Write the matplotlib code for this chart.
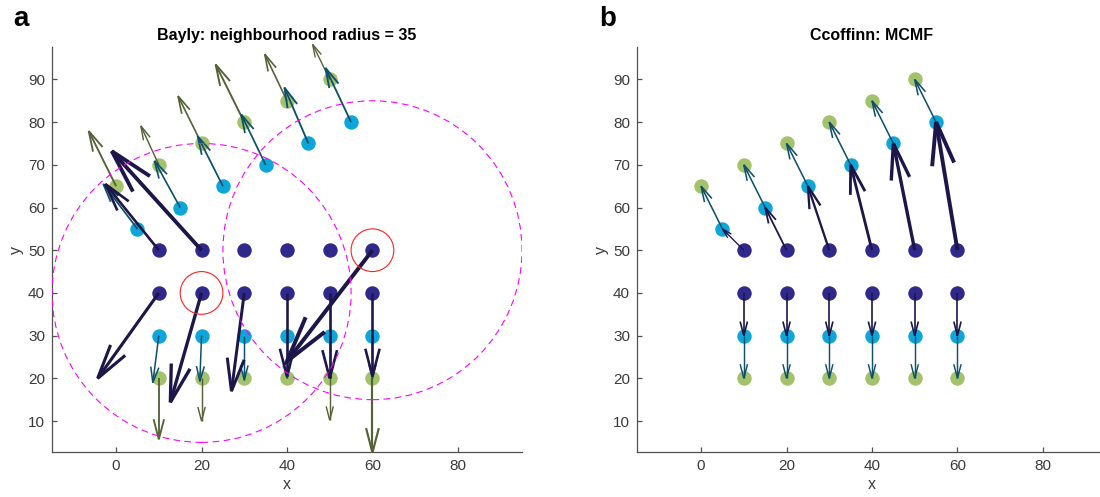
import numpy as np
import matplotlib
matplotlib.use("Agg")
import matplotlib.pyplot as plt
from matplotlib.patches import Circle

# puntos de las tres capas
purple_x = [10, 20, 30, 40, 50, 60, 10, 20, 30, 40, 50, 60]
purple_y = [50, 50, 50, 50, 50, 50, 40, 40, 40, 40, 40, 40]
cyan_x = [10, 20, 30, 40, 50, 60, 5, 15, 25, 35, 45, 55]
cyan_y = [30, 30, 30, 30, 30, 30, 55, 60, 65, 70, 75, 80]
green_x = [10, 20, 30, 40, 50, 60, 0, 10, 20, 30, 40, 50]
green_y = [20, 20, 20, 20, 20, 20, 65, 70, 75, 80, 85, 90]

# panel a: flechas de Bayly (origen -> destino)
bayly_p_x0 = [10, 20, 60, 10, 20, 30, 40, 50, 60]
bayly_p_y0 = [50, 50, 50, 40, 40, 40, 40, 40, 40]
bayly_p_x1 = [-2.5, -1, 40, -4.3, 12.7, 27, 40, 50, 60]
bayly_p_y1 = [65.5, 73.2, 24, 20, 14.4, 17, 20.5, 20, 20.5]

bayly_t_x0 = [10, 20, 30, 40, 50, 60, 5, 15, 25, 35, 45, 55]
bayly_t_y0 = [30, 30, 30, 30, 30, 30, 55, 60, 65, 70, 75, 80]
bayly_t_x1 = [8.6, 19.6, 30, 40, 50, 60, -3, 9, 19.1, 29.3, 39.4, 49]
bayly_t_y1 = [19, 19.3, 19.6, 20, 20, 20, 65.5, 70.9, 76.7, 81.8, 88.1, 92.7]

bayly_o_x0 = [10, 20, 50, 60, 0, 10, 20, 30, 40, 50]
bayly_o_y0 = [20, 20, 20, 20, 65, 70, 75, 80, 85, 90]
bayly_o_x1 = [10, 20, 50, 60, -6.4, 5.8, 14.5, 23.3, 34.8, 46]
bayly_o_y1 = [5.7, 10, 10.2, 2.6, 77.9, 79.1, 86.1, 93.5, 95.9, 98.2]

# panel b: flechas de MCMF
mcmf_p_x0 = [10, 20, 30, 40, 50, 60, 10, 20, 30, 40, 50, 60]
mcmf_p_y0 = [50, 50, 50, 50, 50, 50, 40, 40, 40, 40, 40, 40]
mcmf_p_x1 = [5, 15, 25, 35, 45, 55, 10, 20, 30, 40, 50, 60]
mcmf_p_y1 = [55, 60, 65, 70, 75, 80, 30, 30, 30, 30, 30, 30]

mcmf_t_x0 = [5, 15, 25, 35, 45, 55, 10, 20, 30, 40, 50, 60]
mcmf_t_y0 = [55, 60, 65, 70, 75, 80, 30, 30, 30, 30, 30, 30]
mcmf_t_x1 = [0, 10, 20, 30, 40, 50, 10, 20, 30, 40, 50, 60]
mcmf_t_y1 = [65, 70, 75, 80, 85, 90, 20, 20, 20, 20, 20, 20]

# vecindarios (centro y radio)
hood_x = [20, 60]
hood_y = [40, 50]
hood_r = 35
sel_r = 5

C_PURPLE = '#30288a'
C_CYAN = '#0ea6d8'
C_GREEN = '#a4c16c'
C_ARR_P = '#1c1748'
C_ARR_T = '#0c506c'
C_ARR_O = '#536237'
C_AX = '#505050'

plt.rcParams['font.family'] = ['Liberation Sans', 'DejaVu Sans']


def flechas(ax, x0, y0, x1, y1, color, grosor=1.0):
    # flechas estilo quiver de MATLAB: cabeza abierta proporcional al largo
    alpha, beta = 0.33, 0.26
    for a, b, c, d in zip(x0, y0, x1, y1):
        u, v = c - a, d - b
        largo = np.hypot(u, v)
        lw = grosor * (0.5 + 0.095 * largo) * 0.72
        hx = [c - alpha * (u + beta * v), c, c - alpha * (u - beta * v)]
        hy = [d - alpha * (v - beta * u), d, d - alpha * (v + beta * u)]
        ax.plot([a, c], [b, d], color=color, lw=lw, solid_capstyle='butt',
                clip_on=False, zorder=3)
        ax.plot(hx, hy, color=color, lw=lw, solid_joinstyle='miter',
                solid_capstyle='butt', clip_on=False, zorder=3)


def armar_ejes(ax, titulo):
    ax.set_xlim(-15, 95)
    ax.set_ylim(2.75, 97.5)
    ax.set_xticks([0, 20, 40, 60, 80])
    ax.set_yticks([10, 20, 30, 40, 50, 60, 70, 80, 90])
    for s in ['top', 'right']:
        ax.spines[s].set_visible(False)
    for s in ['left', 'bottom']:
        ax.spines[s].set_color(C_AX)
        ax.spines[s].set_linewidth(0.9)
    ax.tick_params(direction='in', length=3.5, width=0.9, color=C_AX,
                   labelcolor='#3a3a3a', labelsize=11, pad=5)
    ax.set_xlabel('x', fontsize=11.5, color='#3a3a3a', labelpad=3)
    ax.set_ylabel('y', fontsize=11.5, color='#3a3a3a', labelpad=3)
    ax.set_title(titulo, fontsize=11.5, fontweight='bold', pad=5)


fig = plt.figure(figsize=(11, 4.97), dpi=100)
ax1 = fig.add_axes([52 / 1100, 1 - 452 / 497, 470 / 1100, 404.6 / 497])
ax2 = fig.add_axes([637 / 1100, 1 - 452 / 497, 470 / 1100, 404.6 / 497])

for ax in (ax1, ax2):
    ax.scatter(purple_x, purple_y, s=108, color=C_PURPLE, linewidths=0, zorder=2)
    ax.scatter(cyan_x, cyan_y, s=108, color=C_CYAN, linewidths=0, zorder=2)
    ax.scatter(green_x, green_y, s=108, color=C_GREEN, linewidths=0, zorder=2)

# panel a
flechas(ax1, bayly_o_x0, bayly_o_y0, bayly_o_x1, bayly_o_y1, C_ARR_O)
flechas(ax1, bayly_t_x0, bayly_t_y0, bayly_t_x1, bayly_t_y1, C_ARR_T)
flechas(ax1, bayly_p_x0, bayly_p_y0, bayly_p_x1, bayly_p_y1, C_ARR_P, 1.1)
for cx, cy in zip(hood_x, hood_y):
    ax1.add_patch(Circle((cx, cy), hood_r, fill=False, edgecolor='#ff00ff',
                         lw=0.8, linestyle=(0, (6, 4)), zorder=4))
    ax1.add_patch(Circle((cx, cy), sel_r, fill=False, edgecolor='#ff2020',
                         lw=0.8, zorder=4))
armar_ejes(ax1, 'Bayly: neighbourhood radius = 35')

# panel b
flechas(ax2, mcmf_t_x0, mcmf_t_y0, mcmf_t_x1, mcmf_t_y1, C_ARR_T)
flechas(ax2, mcmf_p_x0, mcmf_p_y0, mcmf_p_x1, mcmf_p_y1, C_ARR_P, 1.15)
armar_ejes(ax2, 'Ccoffinn: MCMF')

fig.text(13 / 1100, 1 - 26 / 497, 'a', fontsize=20, fontweight='bold')
fig.text(599 / 1100, 1 - 26 / 497, 'b', fontsize=20, fontweight='bold')

fig.savefig('out.png', dpi=100)
plt.close(fig)
